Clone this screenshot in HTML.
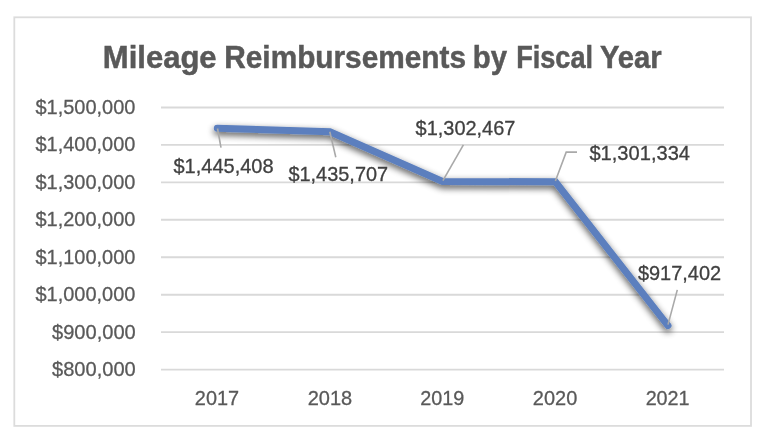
<!DOCTYPE html>
<html><head><meta charset="utf-8">
<style>
html,body{margin:0;padding:0;background:#fff;}
body{width:768px;height:447px;overflow:hidden;}
svg{display:block;font-family:"Liberation Sans",sans-serif;will-change:transform;}
</style></head>
<body>
<svg width="768" height="447" viewBox="0 0 768 447">
<defs>
<filter id="sh" x="-20%" y="-20%" width="140%" height="160%">
<feGaussianBlur in="SourceAlpha" stdDeviation="3.8"/>
<feOffset dx="0.3" dy="3" result="b"/>
<feComponentTransfer><feFuncA type="linear" slope="0.7"/></feComponentTransfer>
<feMerge><feMergeNode/><feMergeNode in="SourceGraphic"/></feMerge>
</filter>
</defs>
<rect x="0" y="0" width="768" height="447" fill="#fff"/>
<rect x="14.3" y="17.3" width="736.7" height="408.6" fill="#fff" stroke="#dcdcdc" stroke-width="1.8"/>
<g font-size="31.5" font-weight="bold" fill="#595959" stroke="#595959" stroke-width="0.5">
<text x="102.8" y="67.95" textLength="113.8" lengthAdjust="spacingAndGlyphs">Mileage</text>
<text x="224.31" y="67.95" textLength="241.69" lengthAdjust="spacingAndGlyphs">Reimbursements</text>
<text x="472.74" y="67.95" textLength="34.25" lengthAdjust="spacingAndGlyphs">by</text>
<text x="516.16" y="67.95" textLength="76.85" lengthAdjust="spacingAndGlyphs">Fiscal</text>
<text x="599.9" y="67.95" textLength="61.75" lengthAdjust="spacingAndGlyphs">Year</text>
</g>
<g stroke="#d9d9d9" stroke-width="1.9">
<line x1="161" y1="107.45" x2="724" y2="107.45"/>
<line x1="161" y1="144.90" x2="724" y2="144.90"/>
<line x1="161" y1="182.35" x2="724" y2="182.35"/>
<line x1="161" y1="219.80" x2="724" y2="219.80"/>
<line x1="161" y1="257.25" x2="724" y2="257.25"/>
<line x1="161" y1="294.70" x2="724" y2="294.70"/>
<line x1="161" y1="332.15" x2="724" y2="332.15"/>
<line x1="161" y1="369.60" x2="724" y2="369.60"/>
</g>
<g font-size="20.8" fill="#595959" stroke="#595959" stroke-width="0.3">
<text x="35.44" y="113.90" textLength="99.96" lengthAdjust="spacingAndGlyphs">$1,500,000</text>
<text x="35.44" y="151.35" textLength="99.96" lengthAdjust="spacingAndGlyphs">$1,400,000</text>
<text x="35.44" y="188.80" textLength="99.96" lengthAdjust="spacingAndGlyphs">$1,300,000</text>
<text x="35.44" y="226.25" textLength="99.96" lengthAdjust="spacingAndGlyphs">$1,200,000</text>
<text x="35.44" y="263.70" textLength="99.96" lengthAdjust="spacingAndGlyphs">$1,100,000</text>
<text x="35.44" y="301.15" textLength="99.96" lengthAdjust="spacingAndGlyphs">$1,000,000</text>
<text x="51.98" y="338.60" textLength="83.81" lengthAdjust="spacingAndGlyphs">$900,000</text>
<text x="51.98" y="376.05" textLength="83.81" lengthAdjust="spacingAndGlyphs">$800,000</text>
</g>
<g font-size="20.8" fill="#595959" stroke="#595959" stroke-width="0.3">
<text x="194.87" y="404.85" textLength="44.21" lengthAdjust="spacingAndGlyphs">2017</text>
<text x="307.7" y="404.85" textLength="44.5" lengthAdjust="spacingAndGlyphs">2018</text>
<text x="420.33" y="404.85" textLength="44.05" lengthAdjust="spacingAndGlyphs">2019</text>
<text x="532.87" y="404.85" textLength="44.42" lengthAdjust="spacingAndGlyphs">2020</text>
<text x="645.64" y="404.85" textLength="43.98" lengthAdjust="spacingAndGlyphs">2021</text>
</g>
<polyline points="217.3,128.2 329.9,131.7 442.6,181.4 555.4,181.8 668.0,325.6" fill="none" stroke="#5b7fbe" stroke-width="7" stroke-linecap="round" stroke-linejoin="miter" filter="url(#sh)"/>
<g stroke="#a9a9a9" stroke-width="1.6" fill="none">
<polyline points="217.5,128.5 221,147.6"/>
<polyline points="329.8,131.8 335.8,157.3"/>
<polyline points="442.9,180.6 463.4,144.8"/>
<polyline points="555.4,181 566.2,152.1 577,152.1"/>
<polyline points="668,324.6 677.3,289.9"/>
</g>
<g font-size="20.8" fill="#404040" stroke="#404040" stroke-width="0.3">
<text x="173.43" y="173.05" textLength="100.23" lengthAdjust="spacingAndGlyphs">$1,445,408</text>
<text x="288.43" y="181.15" textLength="99.72" lengthAdjust="spacingAndGlyphs">$1,435,707</text>
<text x="415.59" y="135.35" textLength="99.8" lengthAdjust="spacingAndGlyphs">$1,302,467</text>
<text x="589.44" y="160.45" textLength="100.57" lengthAdjust="spacingAndGlyphs">$1,301,334</text>
<text x="637.91" y="280.25" textLength="83.18" lengthAdjust="spacingAndGlyphs">$917,402</text>
</g>
</svg>
</body></html>
